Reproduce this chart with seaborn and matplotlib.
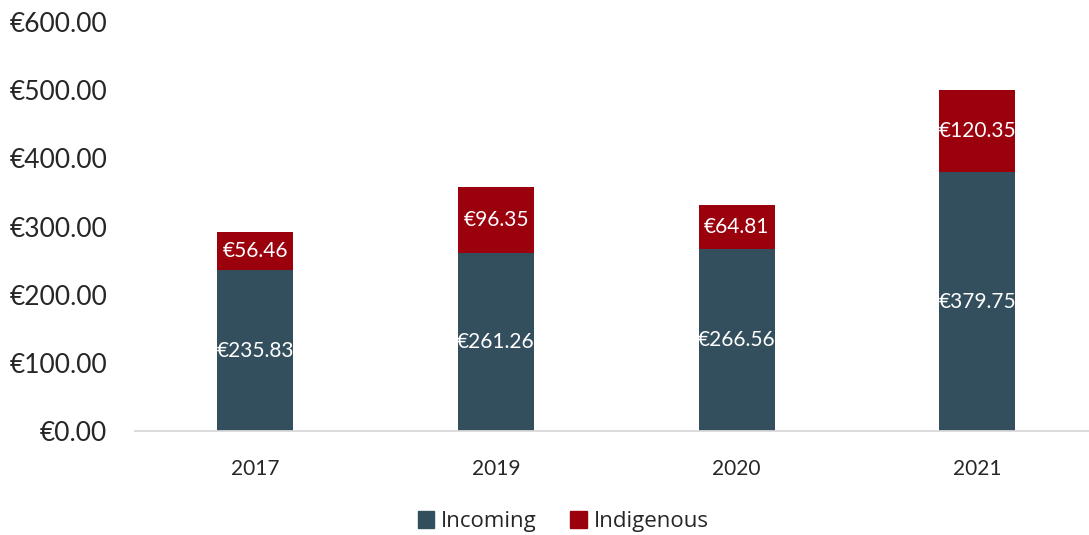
import matplotlib
matplotlib.use("Agg")
import matplotlib.pyplot as plt
from matplotlib.patches import Patch
from matplotlib.ticker import FuncFormatter
import seaborn as sns
import pandas as pd

# --- dati ---
years = ["2017", "2019", "2020", "2021"]
incoming = [235.83, 261.26, 266.56, 379.75]
indigenous = [56.46, 96.35, 64.81, 120.35]

col_incoming = "#334E5C"
col_indigenous = "#9B000D"

sns.set_theme(style="white")
plt.rcParams["font.family"] = ["Lato", "DejaVu Sans"]

df = pd.DataFrame({"Year": years, "Incoming": incoming, "Indigenous": indigenous})
df["Total"] = df["Incoming"] + df["Indigenous"]

fig = plt.figure(figsize=(10.89, 5.35), dpi=100)
# l'asse va leggermente oltre il bordo destro, come nell'originale
ax = fig.add_axes([0.124, 0.194, 0.884, 0.765])

# barre totali (rosse) e sopra la parte "Incoming"
sns.barplot(data=df, x="Year", y="Total", color=col_indigenous, width=0.315,
            saturation=1, linewidth=0, ax=ax)
sns.barplot(data=df, x="Year", y="Incoming", color=col_incoming, width=0.315,
            saturation=1, linewidth=0, ax=ax)

# etichette al centro dei segmenti
for i, row in df.iterrows():
    ax.text(i, row["Incoming"] / 2, f"€{row['Incoming']:.2f}", ha="center",
            va="center", color="white", fontsize=15)
    ax.text(i, row["Incoming"] + row["Indigenous"] / 2, f"€{row['Indigenous']:.2f}",
            ha="center", va="center", color="white", fontsize=15)

ax.set_ylim(0, 600)
ax.set_xlim(-0.5, 3.5)
ax.set_yticks(range(0, 601, 100))
ax.yaxis.set_major_formatter(FuncFormatter(lambda v, p: f"€{v:.2f}"))
ax.tick_params(axis="y", labelsize=19, length=0, pad=20)
ax.tick_params(axis="x", labelsize=15, length=0, pad=20)
ax.set_xlabel("")
ax.set_ylabel("")

for s in ["top", "right", "left"]:
    ax.spines[s].set_visible(False)
ax.spines["bottom"].set_color("#D9D9D9")
ax.spines["bottom"].set_linewidth(1.3)

handles = [Patch(color=col_incoming, label="Incoming"),
           Patch(color=col_indigenous, label="Indigenous")]
fig.legend(handles=handles, loc="center", bbox_to_anchor=(0.517, 0.025), ncol=2,
           frameon=False, handlelength=0.75, handleheight=0.75,
           handletextpad=0.3, columnspacing=1.5,
           prop={"family": ["Open Sans", "DejaVu Sans"], "size": 16})

plt.savefig("out.png", dpi=100)
plt.close()
